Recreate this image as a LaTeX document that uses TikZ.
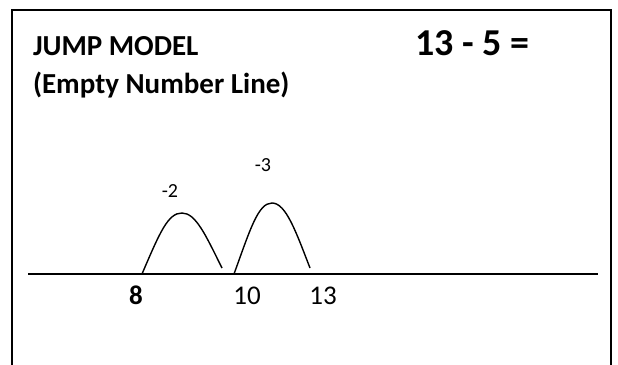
\documentclass[tikz,border=0pt]{standalone}
\usepackage{fontspec}
\setmainfont{Carlito}
\begin{document}
\begin{tikzpicture}[x=1pt,y=-1pt,
  lbl/.style={inner sep=0pt,outer sep=0pt},
  jump/.style={line width=1.4pt},
  frame/.style={line width=1.6pt}]
\useasboundingbox (0,0) rectangle (618,364);
\draw[frame] (12,380) -- (12,10) -- (611,10) -- (611,380);
\node[lbl,anchor=base west,font=\fontsize{29}{35}\selectfont\bfseries] (title) at (33,55) {JUMP MODEL};
\node[lbl,anchor=base west,font=\fontsize{29}{35}\selectfont\bfseries] (sub) at (33,93) {(Empty Number Line)};
\node[lbl,anchor=base west,font=\fontsize{38}{44}\selectfont\bfseries] (eq) at (415,55) {13 - 5 =};
\coordinate (L) at (28,274);
\coordinate (R) at (598,274);
\draw[line width=1.4pt] (L) -- (R);
\coordinate (a1) at (142,274);
\coordinate (p1) at (182,213);
\coordinate (b1) at (222,268);
\coordinate (a2) at (234,274);
\coordinate (p2) at (272,203);
\coordinate (b2) at (310,268);
\draw[jump] (a1) .. controls (160,232) and (168,213) .. (p1) .. controls (196,213) and (206,236) .. (b1);
\draw[jump] (a2) .. controls (250,230) and (258,203) .. (p2) .. controls (286,203) and (296,232) .. (b2);
\node[lbl,font=\fontsize{20}{24}\selectfont] (m2) at (170,191) {-2};
\node[lbl,font=\fontsize{20}{24}\selectfont] (m3) at (263,165) {-3};
\node[lbl,anchor=base,font=\fontsize{27}{32}\selectfont\bfseries] (n8) at (136,304) {8};
\node[lbl,anchor=base,font=\fontsize{27}{32}\selectfont] (n10) at (247,304) {10};
\node[lbl,anchor=base,font=\fontsize{27}{32}\selectfont] (n13) at (323,304) {13};
\end{tikzpicture}
\end{document}
